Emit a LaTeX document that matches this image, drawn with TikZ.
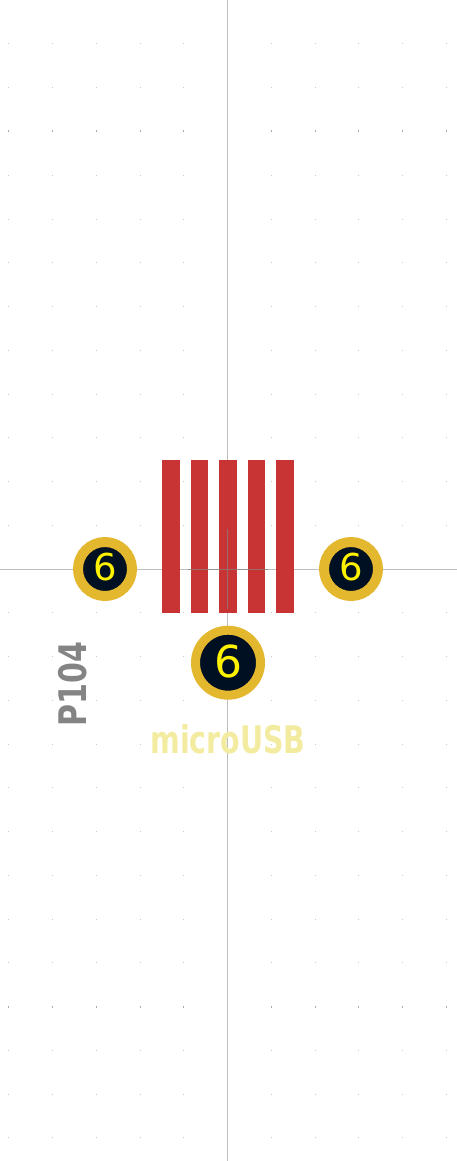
\documentclass[tikz,border=0pt]{standalone}
\usepackage{fontspec}
\setmainfont{DejaVu Sans}
\usepackage{xcolor}
\usepackage{tikz}
\definecolor{padred}{RGB}{200,52,52}
\definecolor{ringgold}{RGB}{227,183,46}
\definecolor{holeblue}{RGB}{0,16,35}
\definecolor{axisgray}{RGB}{190,190,190}
\definecolor{dotgray}{RGB}{200,200,200}
\definecolor{refgray}{RGB}{132,132,132}
\definecolor{silkyellow}{RGB}{243,236,160}
\tikzset{
	griddot/.style={fill=dotgray,inner sep=0pt,minimum width=1pt,minimum height=1pt},
	griddotbig/.style={fill=dotgray!85!black,inner sep=0pt,minimum width=1pt,minimum height=2pt},
	pad/.style={fill=padred,inner sep=0pt,minimum height=153pt},
	ringsmall/.style={circle,draw=ringgold,fill=holeblue,line width=10pt,inner sep=0pt,minimum size=54pt},
	ringbig/.style={circle,draw=ringgold,fill=holeblue,line width=9pt,inner sep=0pt,minimum size=65pt},
	padnum/.style={text=yellow,inner sep=0pt},
}
\begin{document}
\begin{tikzpicture}[x=1pt,y=-1pt]
	\useasboundingbox[fill=white] (0,0) rectangle (457,1161);
	% grid
	\foreach \row in {-12,...,13} {
		\foreach \col in {-5,...,5} {
			\pgfmathsetmacro{\dotx}{227.5+43.75*\col}
			\pgfmathsetmacro{\doty}{569+43.75*\row}
			\ifnum\row=-10
				\node[griddotbig] at (\dotx,\doty) {};
			\else\ifnum\row=10
				\node[griddotbig] at (\dotx,\doty) {};
			\else
				\node[griddot] at (\dotx,\doty) {};
			\fi\fi
		}
	}
	% axes
	\coordinate (axtop) at (227.5,0);
	\coordinate (axbot) at (227.5,1161);
	\coordinate (axleft) at (0,569);
	\coordinate (axright) at (457,569);
	\draw[axisgray,line width=1pt] (axtop)--(axbot) (axleft)--(axright);
	% pads
	\node[pad,minimum width=18pt] (p1) at (171,536.5) {};
	\node[pad,minimum width=17pt] (p2) at (199.5,536.5) {};
	\node[pad,minimum width=18pt] (p3) at (228,536.5) {};
	\node[pad,minimum width=17pt] (p4) at (256.5,536.5) {};
	\node[pad,minimum width=18pt] (p5) at (285,536.5) {};
	% anchor cross
	\coordinate (crtop) at (227.5,529);
	\coordinate (crbot) at (227.5,609);
	\coordinate (crleft) at (188,569);
	\coordinate (crright) at (268,569);
	\draw[refgray,opacity=.7,line width=.8pt] (crtop)--(crbot) (crleft)--(crright);
	% holes
	\node[ringsmall] (h1) at (105,569) {};
	\node[ringsmall] (h2) at (351,569) {};
	\node[ringbig] (h3) at (228,662.7) {};
	\node[padnum,font=\fontsize{37}{37}\selectfont] (n1) at (105.5,567.5) {6};
	\node[padnum,font=\fontsize{37}{37}\selectfont] (n2) at (351,567.5) {6};
	\node[padnum,font=\fontsize{44}{44}\selectfont] (n3) at (228,661.5) {6};
	% texts
	\node[text=refgray,rotate=90,xscale=.79,font=\fontsize{38}{38}\selectfont\bfseries,inner sep=0pt] (ref) at (73,684) {P104};
	\node[text=silkyellow,xscale=.75,font=\fontsize{38}{38}\selectfont\bfseries,inner sep=0pt] (val) at (228,739) {microUSB};
\end{tikzpicture}
\end{document}
